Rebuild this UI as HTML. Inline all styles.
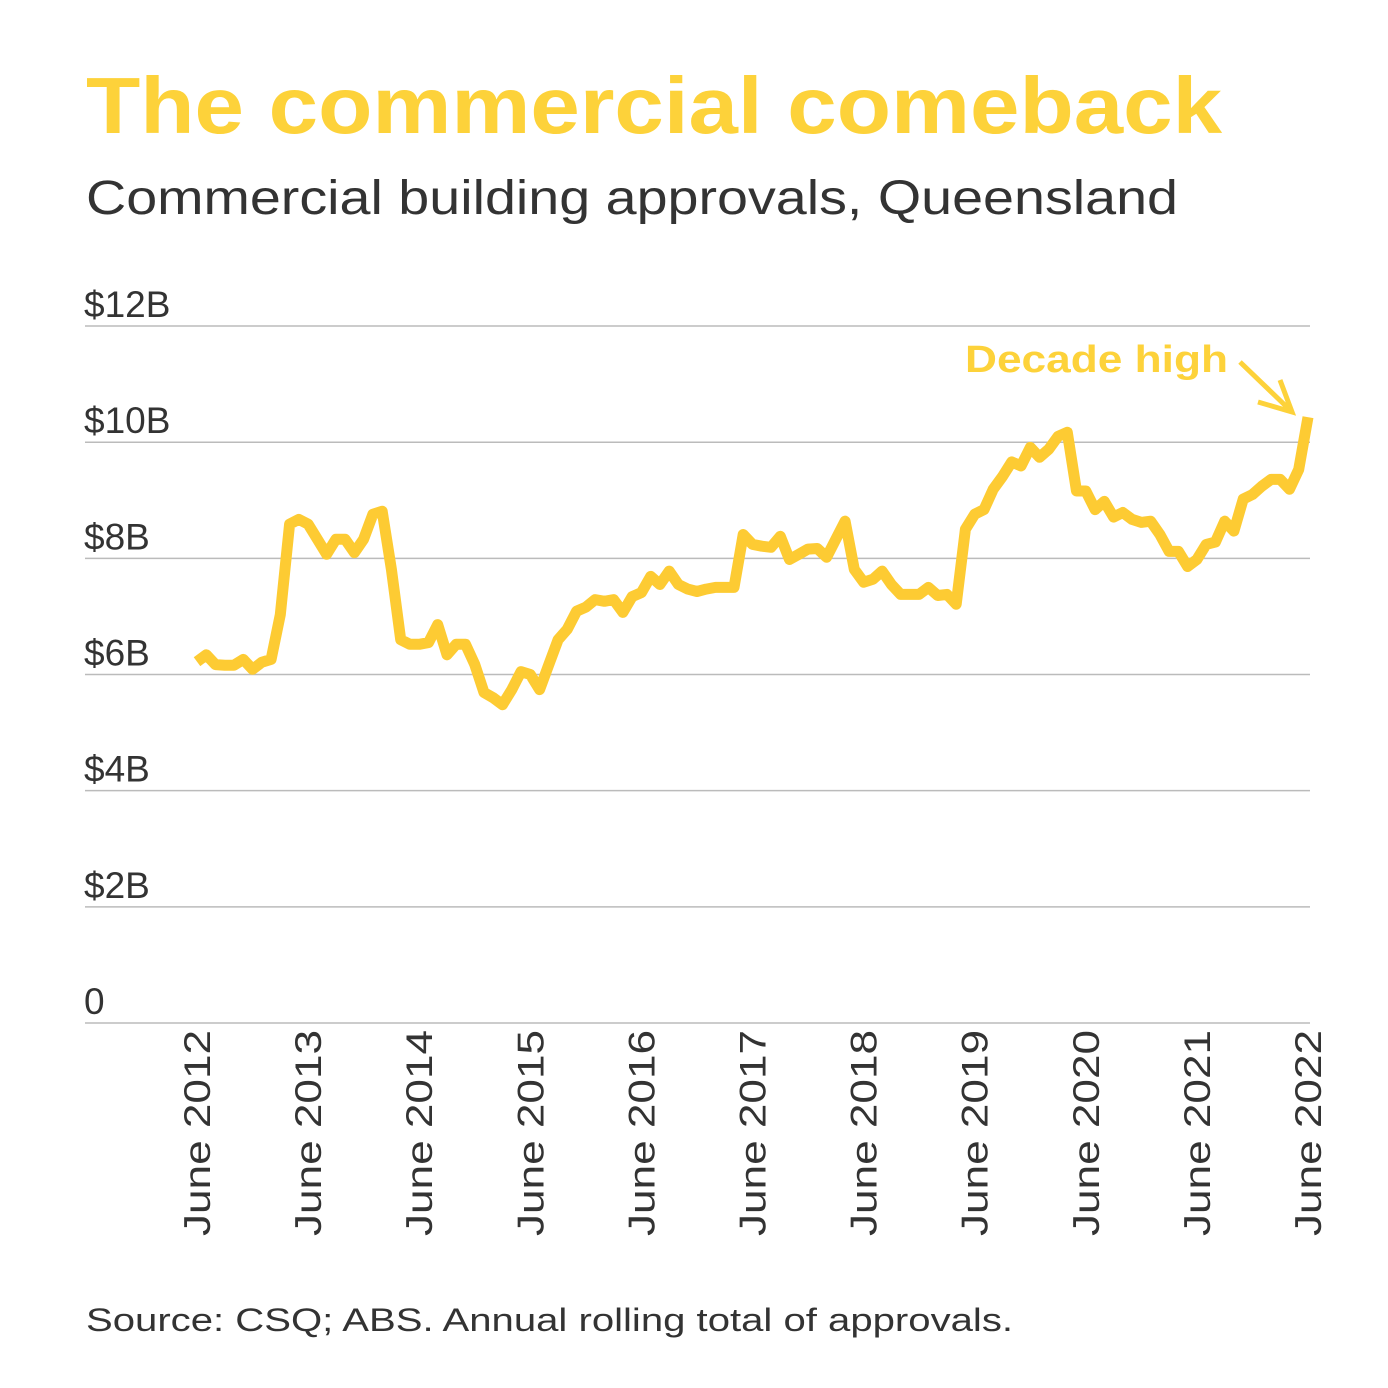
<!DOCTYPE html>
<html><head><meta charset="utf-8"><style>
body{margin:0;background:#fff;width:1388px;height:1388px;overflow:hidden;font-family:"Liberation Sans",sans-serif}
svg{display:block}
</style></head><body>
<svg width="1388" height="1388">
<text x="86" y="133" font-size="80" font-weight="bold" fill="#FDD23A" textLength="1136" lengthAdjust="spacingAndGlyphs">The commercial comeback</text>
<text x="86" y="214" font-size="48" fill="#333" textLength="1092" lengthAdjust="spacingAndGlyphs">Commercial building approvals, Queensland</text>
<g id="grid"></g><g id="xl"></g>
<polyline id="line" fill="none" stroke="#FDCB33" stroke-width="11" stroke-linejoin="round" stroke-linecap="butt"/>
<text x="1228" y="372" font-size="38" font-weight="bold" fill="#FDD23A" text-anchor="end" textLength="263" lengthAdjust="spacingAndGlyphs">Decade high</text>
<g stroke="#FDD23A" stroke-width="5" fill="none"><path d="M1240 362 L1290 410 M1258 402 L1292 412 L1280 380"/></g>
<text x="86" y="1331" font-size="32" fill="#333" textLength="927" lengthAdjust="spacingAndGlyphs">Source: CSQ; ABS. Annual rolling total of approvals.</text>
</svg>
<script>
const values=[6.22,6.34,6.17,6.16,6.16,6.26,6.09,6.21,6.26,7.03,8.59,8.67,8.59,8.33,8.07,8.33,8.33,8.10,8.33,8.76,8.81,7.81,6.60,6.52,6.52,6.55,6.86,6.34,6.52,6.52,6.17,5.69,5.60,5.48,5.74,6.05,6.00,5.74,6.17,6.60,6.78,7.09,7.16,7.29,7.26,7.29,7.07,7.34,7.41,7.69,7.55,7.78,7.55,7.47,7.43,7.47,7.50,7.50,7.50,8.41,8.24,8.21,8.19,8.38,7.98,8.07,8.16,8.17,8.02,8.33,8.64,7.81,7.59,7.64,7.78,7.55,7.38,7.38,7.38,7.50,7.36,7.38,7.21,8.50,8.76,8.84,9.19,9.41,9.66,9.59,9.91,9.74,9.88,10.10,10.17,9.16,9.16,8.84,8.98,8.71,8.79,8.67,8.62,8.64,8.41,8.12,8.12,7.86,7.98,8.24,8.28,8.64,8.47,9.02,9.10,9.24,9.36,9.36,9.19,9.53,10.43];
const yTicks=[0,2,4,6,8,10,12];
const yLabels=["0","$2B","$4B","$6B","$8B","$10B","$12B"];
const xLabels=["June 2012","June 2013","June 2014","June 2015","June 2016","June 2017","June 2018","June 2019","June 2020","June 2021","June 2022"];
const NS="http://www.w3.org/2000/svg";
const y=v=>1023-v*58.08;
const x=i=>197+i*(1308-197)/120;
const g=document.getElementById('grid');
yTicks.forEach((t,k)=>{
 const l=document.createElementNS(NS,'line');
 l.setAttribute('x1',85);l.setAttribute('x2',1310);l.setAttribute('y1',y(t));l.setAttribute('y2',y(t));
 l.setAttribute('stroke','#bbb');l.setAttribute('stroke-width','1.5');
 
 
 g.appendChild(l);
 const tx=document.createElementNS(NS,'text');
 tx.setAttribute('x',84);tx.setAttribute('y',y(t)-9);tx.setAttribute('font-size','37');tx.setAttribute('fill','#333');
 tx.textContent=yLabels[k];
 
 
 g.appendChild(tx);
});
const xl=document.getElementById('xl');
xLabels.forEach((s,k)=>{
 const px=x(k*12);
 const tx=document.createElementNS(NS,'text');
 tx.setAttribute('transform',`translate(${px+13},1030) rotate(-90)`);
 tx.setAttribute('text-anchor','end');tx.setAttribute('font-size','37');tx.setAttribute('fill','#333');
 tx.setAttribute('textLength','206');tx.setAttribute('lengthAdjust','spacingAndGlyphs');
 tx.textContent=s;
 
 
 xl.appendChild(tx);
});
document.getElementById('line').setAttribute('points',values.map((v,i)=>x(i).toFixed(1)+','+y(v).toFixed(1)).join(' '));
</script>
</body></html>
